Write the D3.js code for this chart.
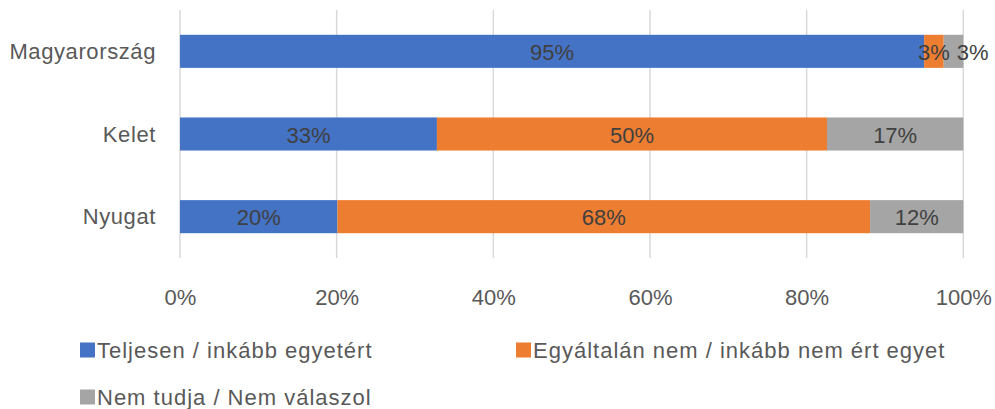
<!DOCTYPE html>
<html><head><meta charset="utf-8">
<script src="https://cdn.jsdelivr.net/npm/d3@7"></script>
<style>
body{margin:0;background:#fff;}
svg{display:block;font-family:"Liberation Sans",Arial,sans-serif;}
</style></head>
<body><svg id="chart" width="995" height="409"></svg>
<script>
const categories = ["Magyarország", "Kelet", "Nyugat"];
const seriesNames = ["Teljesen / inkább egyetért", "Egyáltalán nem / inkább nem ért egyet", "Nem tudja / Nem válaszol"];
const agree = [95.0, 32.8, 20.1];
const disagree = [2.5, 49.8, 68.0];
const dontKnow = [2.5, 17.4, 11.9];
const tickValues = [0, 20, 40, 60, 80, 100];
const colors = ["#4472C4", "#ED7D31", "#A5A5A5"];

const svg = d3.select("#chart");
const x = d3.scaleLinear().domain([0, 100]).range([180, 963.3]);
const y = d3.scaleBand().domain(categories).range([10, 258]).paddingInner(0.6).paddingOuter(0.3);

// gridlines
svg.append("g").selectAll("line").data(tickValues).join("line")
  .attr("x1", d => x(d)).attr("x2", d => x(d))
  .attr("y1", 10).attr("y2", 258)
  .attr("stroke", "#D9D9D9").attr("stroke-width", 1.5);

// x axis labels
const xAxis = d3.axisBottom(x).tickValues(tickValues).tickFormat(d => d + "%").tickSize(0).tickPadding(0);
const gx = svg.append("g").attr("transform", "translate(0,290)").call(xAxis);
gx.select(".domain").remove();
gx.selectAll("text").attr("font-size", 22).attr("fill", "#595959")
  .attr("font-family", "Liberation Sans, Arial, sans-serif").attr("dy", "0.35em").attr("y", 7);

// y axis labels
const yAxis = d3.axisLeft(y).tickSize(0).tickPadding(0);
const gy = svg.append("g").attr("transform", "translate(156,0)").call(yAxis);
gy.select(".domain").remove();
gy.selectAll("text").attr("font-size", 22).attr("fill", "#595959")
  .attr("letter-spacing", "0.6px")
  .attr("font-family", "Liberation Sans, Arial, sans-serif").attr("dy", "0.35em");

// stack
const rows = categories.map((c, i) => ({cat: c, s0: agree[i], s1: disagree[i], s2: dontKnow[i]}));
const stack = d3.stack().keys(["s0", "s1", "s2"]);
const series = stack(rows);

const gBars = svg.append("g");
series.forEach((s, si) => {
  gBars.append("g").attr("fill", colors[si]).selectAll("rect").data(s).join("rect")
    .attr("x", d => x(d[0])).attr("width", d => x(d[1]) - x(d[0]))
    .attr("y", d => y(d.data.cat)).attr("height", y.bandwidth());
});

// data labels with overlap nudging
const gLab = svg.append("g");
categories.forEach((c, ci) => {
  let prevRight = -Infinity;
  series.forEach((s, si) => {
    const d = s[ci];
    const val = d[1] - d[0];
    const cx = (x(d[0]) + x(d[1])) / 2;
    const t = gLab.append("text")
      .attr("x", cx).attr("y", y(c) + y.bandwidth() / 2 + 1)
      .attr("dy", "0.35em").attr("text-anchor", "middle")
      .attr("font-size", 22).attr("fill", "#404040")
      .text(Math.round(val) + "%");
    const w = t.node().getComputedTextLength();
    let left = cx - w / 2;
    if (left < prevRight + 7) {
      left = prevRight + 7;
      t.attr("x", left + w / 2);
    }
    prevRight = left + w;
  });
});

// legend
const legendPos = [[80, 350], [516, 350], [80, 397]];
const gLeg = svg.append("g");
seriesNames.forEach((n, i) => {
  const [lx, ly] = legendPos[i];
  gLeg.append("rect").attr("x", lx).attr("y", ly - 7.5).attr("width", 15).attr("height", 15).attr("fill", colors[i]);
  gLeg.append("text").attr("x", lx + 17).attr("y", ly).attr("dy", "0.35em")
    .attr("font-size", 22).attr("fill", "#595959").attr("letter-spacing", "1px")
    .text(n);
});
</script></body></html>
